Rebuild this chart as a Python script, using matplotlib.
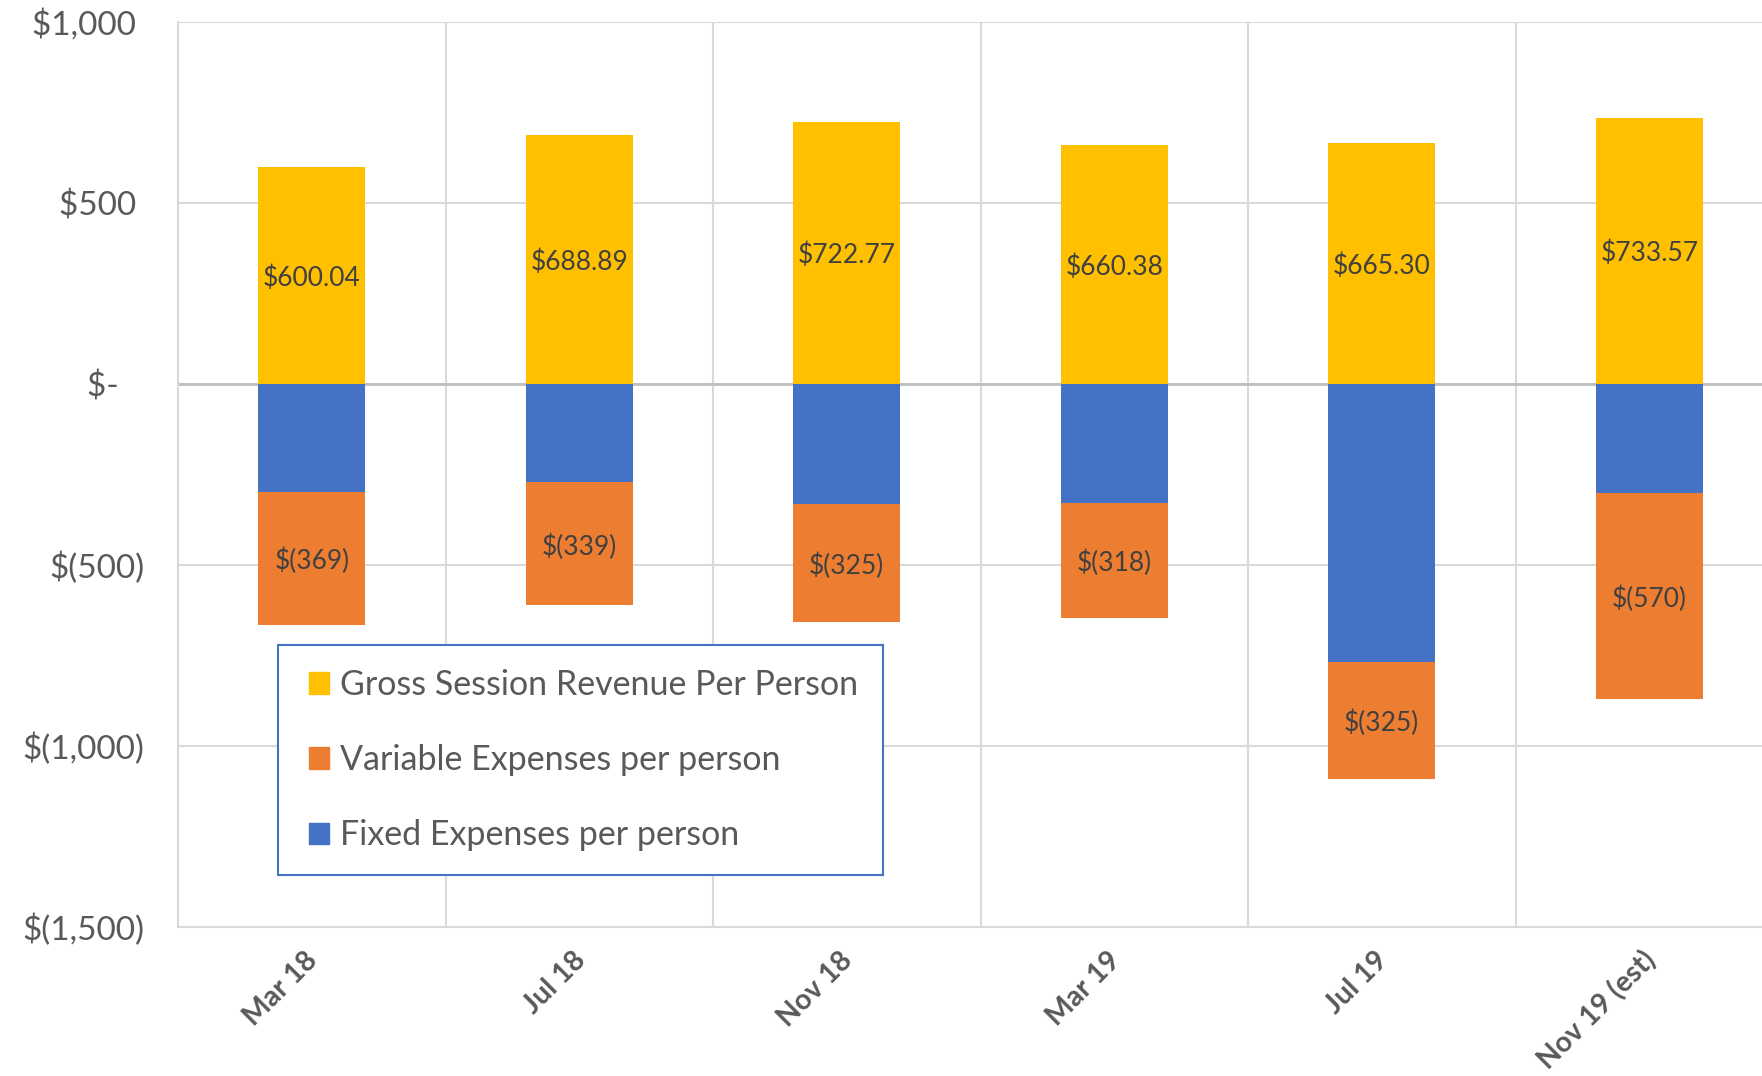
import matplotlib
matplotlib.use("Agg")
import matplotlib.pyplot as plt
import matplotlib.transforms as mtransforms
import numpy as np
from matplotlib.patches import Patch
from matplotlib.legend_handler import HandlerPatch

categories = ["Mar 18", "Jul 18", "Nov 18", "Mar 19", "Jul 19", "Nov 19 (est)"]
revenue = [600.04, 688.89, 722.77, 660.38, 665.30, 733.57]
fixed = [-298, -272, -332, -329, -767, -301]
variable = [-369, -339, -325, -318, -325, -570]
yticks = [1000, 500, 0, -500, -1000, -1500]
ytick_labels = ["$1,000 ", "$500 ", "$-   ", "$(500)", "$(1,000)", "$(1,500)"]

C_REV = "#FFC000"
C_VAR = "#ED7D31"
C_FIX = "#4472C4"

plt.rcParams['font.family'] = ['Lato', 'DejaVu Sans']

W, H = 1762, 1076
fig = plt.figure(figsize=(W / 100, H / 100), dpi=100)
left = 178 / W
right = 1783 / W
top = 1 - 22 / H
bottom = 1 - 927 / H
ax = fig.add_axes([left, bottom, right - left, top - bottom])

x = np.arange(len(categories))
bw = 0.4
ax.bar(x, revenue, bw, color=C_REV, zorder=3)
ax.bar(x, fixed, bw, color=C_FIX, zorder=3)
ax.bar(x, variable, bw, bottom=fixed, color=C_VAR, zorder=3)

down = mtransforms.ScaledTranslation(0, -2.5 / 100, fig.dpi_scale_trans)
for i in range(len(categories)):
    ax.text(x[i], revenue[i] / 2, f"${revenue[i]:.2f}", ha="center", va="center",
            fontsize=19, color="#404040", zorder=4, transform=ax.transData + down)
    ax.text(x[i], fixed[i] + variable[i] / 2, f"$({abs(variable[i])})", ha="center", va="center",
            fontsize=19, color="#404040", zorder=4, transform=ax.transData + down)

ax.set_xlim(-0.5, len(categories) - 0.5)
ax.set_ylim(-1500, 1000)
ax.set_yticks(yticks)
ax.set_yticklabels(ytick_labels, fontsize=24, color="#595959")
ax.tick_params(axis="y", length=0, pad=24)

ax.set_xticks(x)
ax.set_xticklabels(categories, rotation=45, ha="right", va="center", rotation_mode="anchor",
                   fontsize=20.5, fontweight="bold", color="#595959")
ax.tick_params(axis="x", length=0, pad=21)
off = mtransforms.ScaledTranslation(2 / 100, 0, fig.dpi_scale_trans)
for lab in ax.get_xticklabels():
    lab.set_transform(lab.get_transform() + off)

ax.set_xticks(np.arange(len(categories) + 1) - 0.5, minor=True)
ax.tick_params(axis="x", which="minor", length=0)
ax.grid(True, which="minor", axis="x", color="#D9D9D9", linewidth=1.5, zorder=0)
ax.grid(True, which="major", axis="y", color="#D9D9D9", linewidth=1.5, zorder=0)
ax.axhline(0, color="#BFBFBF", linewidth=2, zorder=2)

for s in ["top", "right"]:
    ax.spines[s].set_visible(False)
for s in ["left", "bottom"]:
    ax.spines[s].set_color("#D9D9D9")
    ax.spines[s].set_linewidth(1.5)

handles = [Patch(color=C_REV, label="Gross Session Revenue Per Person"),
           Patch(color=C_VAR, label="Variable Expenses per person"),
           Patch(color=C_FIX, label="Fixed Expenses per person")]
lx0, lx1, ly0, ly1 = 278, 883, 645, 870
leg = fig.legend(handles=handles, loc="upper left",
                 bbox_to_anchor=(lx0 / W, 1 - ly1 / H, (lx1 - lx0) / W, (ly1 - ly0) / H),
                 mode="expand", fontsize=24.5, frameon=True, fancybox=False,
                 handlelength=0.8, handleheight=0.59, handletextpad=0.32,
                 labelspacing=1.27, borderpad=0.7, borderaxespad=0, labelcolor="#595959",
                 handler_map={Patch: HandlerPatch(xpad=0.2)})
leg.get_frame().set_edgecolor(C_FIX)
leg.get_frame().set_linewidth(1.5)
leg.get_frame().set_alpha(1)

fig.savefig("out.png", dpi=100)
